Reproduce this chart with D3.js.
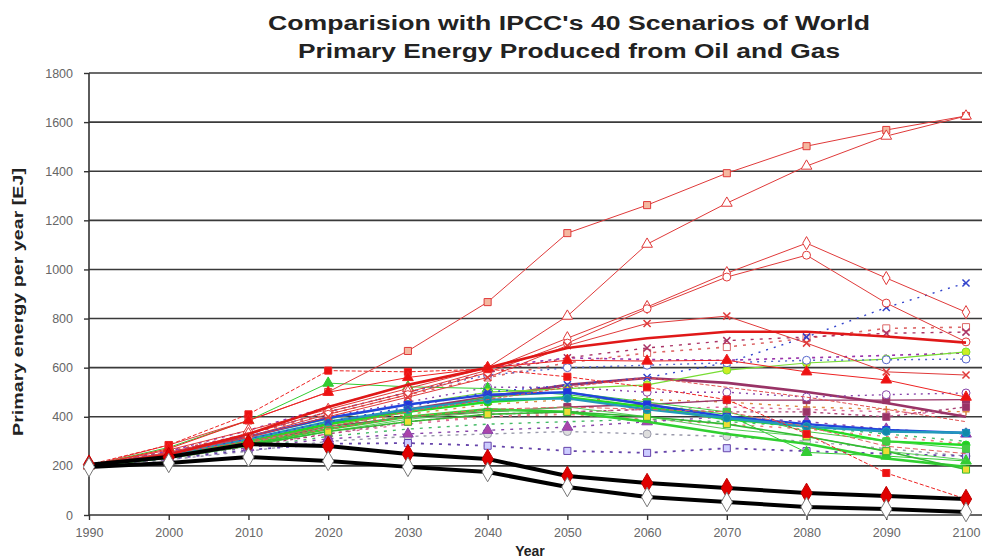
<!DOCTYPE html>
<html><head><meta charset="utf-8">
<script src="https://cdn.jsdelivr.net/npm/d3@7/dist/d3.min.js"></script>
<style>body{margin:0;background:#fff}svg{display:block;font-family:"Liberation Sans",Arial,sans-serif}</style>
</head><body><svg id="c" width="985" height="560"></svg>
<script>
// ---------- data ----------
const years = [1990,2000,2010,2020,2030,2040,2050,2060,2070,2080,2090,2100];
const yTicks = [0,200,400,600,800,1000,1200,1400,1600,1800];
const titleLines = ["Comparision with IPCC's 40 Scenarios of World","Primary Energy Produced from Oil and Gas"];
const yLabel = "Primary energy per year [EJ]";
const xLabel = "Year";

const redSeries = [
  [200,285,385,501,668,867,1148,1262,1392,1502,1568,1625],
  [200,265,345,430,515,600,810,1103,1270,1421,1543,1625],
  [200,255,330,420,500,590,720,847,985,1107,965,826],
  [200,250,320,410,490,580,700,840,969,1058,863,705],
  [200,250,315,400,480,560,690,780,810,700,583,570],
  [205,285,410,588,583,594,563,520,470,330,171,65],
  [200,270,385,500,560,600,630,627,630,583,550,480],
  [200,250,300,360,420,470,520,560,520,480,430,380],
  [200,240,295,350,400,430,440,430,420,360,280,250],
  [200,245,330,440,530,600,680,720,746,746,727,702]
];
const greenSeries = [
  [200,275,385,537,522,515,490,450,410,255,240,220],
  [200,240,300,370,420,460,480,440,390,360,300,285],
  [200,235,290,350,400,430,420,380,330,290,230,196],
  [200,230,280,340,390,420,440,400,350,320,260,224],
  [200,250,320,390,450,500,515,530,590,619,635,664],
  [200,240,300,360,420,480,500,460,420,340,300,270],
  [200,235,285,340,380,410,420,400,370,320,260,185]
];
const blueSeries = [
  [200,250,320,395,450,490,500,450,400,370,346,334],
  [200,245,310,380,430,470,475,430,395,360,340,335],
  [200,250,310,380,440,500,530,560,620,725,845,945],
  [200,255,330,420,500,570,600,610,620,630,632,635]
];
const purpleSeries = [
  [200,240,300,370,430,480,530,558,538,501,456,400],
  [200,235,290,360,400,420,440,450,468,468,468,470],
  [200,230,280,330,380,410,420,430,420,420,400,440],
  [200,250,320,400,460,520,520,500,500,480,490,497],
  [200,228,265,290,293,282,261,253,272,260,250,240],
  [200,232,275,310,330,345,358,380,400,380,350,330],
  [200,260,345,440,530,600,640,633,630,640,650,660],
  [200,255,330,420,500,580,640,680,710,725,740,745]
];
const dottedSeries = [
  [200,260,330,410,490,560,620,660,684,720,760,765],
  [200,235,285,330,370,400,420,430,440,430,420,410],
  [200,225,260,300,320,330,340,330,320,300,270,240],
  [200,240,290,340,380,400,410,390,370,350,320,290],
  [200,240,300,360,410,450,470,470,460,440,430,420],
  [200,230,275,320,350,370,380,390,380,360,330,300]
];
const blackSeries = [
  [205,236,289,281,248,228,159,130,110,90,77,65],
  [195,212,236,220,196,175,114,73,53,33,24,12]
];

// ---------- styles (kept apart from data) ----------
const redStyles = [
  {c:"#e03a3a",w:1,m:"square",f:"#f4b8a0"},
  {c:"#e03a3a",w:1,m:"triangle",f:"#fff"},
  {c:"#e03a3a",w:1,m:"diamond",f:"#fff"},
  {c:"#e03a3a",w:1,m:"circle",f:"#fff"},
  {c:"#e03a3a",w:1,m:"x",f:"none"},
  {c:"#ee2222",w:1,m:"square",f:"#ee1111",d:"4,2"},
  {c:"#ee2222",w:1,m:"triangle",f:"#ee1111"},
  {c:"#e05050",w:1,m:null,d:"4,2"},
  {c:"#e06060",w:1,m:null,d:"5,3"},
  {c:"#e01818",w:2.6,m:null}
];
const greenStyles = [
  {c:"#33cc33",w:1,m:"triangle",f:"#33cc33"},
  {c:"#22dd22",w:2.4,m:"circle",f:"#22cc22"},
  {c:"#30d030",w:2.6,m:null},
  {c:"#55cc55",w:1,m:null},
  {c:"#77dd33",w:1.2,m:"circle",f:"#ccee22"},
  {c:"#44cc44",w:1,m:"square",f:"#44cc44"},
  {c:"#33bb33",w:1.6,m:"square",f:"#eedd33"}
];
const blueStyles = [
  {c:"#2244dd",w:2.4,m:"square",f:"#2233dd"},
  {c:"#2299bb",w:2.4,m:"circle",f:"#1188aa"},
  {c:"#3344cc",w:1.4,m:"x",f:"none",d:"2,6"},
  {c:"#5566cc",w:1.4,m:"circle",f:"#fff",d:"2,5"}
];
const purpleStyles = [
  {c:"#993366",w:2.6,m:null},
  {c:"#993366",w:1.4,m:"square",f:"#993366"},
  {c:"#aa4477",w:1.4,m:"square",f:"#993366",d:"3,4"},
  {c:"#8844aa",w:1.4,m:"circle",f:"#fff",d:"2,5"},
  {c:"#6644aa",w:1.8,m:"square",f:"#ccccff",d:"3,6"},
  {c:"#8844aa",w:1.4,m:"triangle",f:"#aa44aa",d:"3,6"},
  {c:"#9933aa",w:1.6,m:null,d:"3,5"},
  {c:"#aa3366",w:1.4,m:"x",f:"none",d:"3,6"}
];
const dottedStyles = [
  {c:"#dd6666",w:1.6,m:"square",f:"#fff",d:"3,6"},
  {c:"#dd6699",w:1.4,m:null,d:"3,6"},
  {c:"#9999aa",w:1.4,m:"circle",f:"#ddd",d:"3,5"},
  {c:"#ee7777",w:1.4,m:null,d:"3,6"},
  {c:"#dd8844",w:1.4,m:"plus",f:"none",d:"3,6"},
  {c:"#44bb66",w:1.4,m:null,d:"3,6"}
];
const blackStyles = [
  {c:"#000",w:4,m:"diamond",f:"#e00000",s:"#c00000",size:110},
  {c:"#000",w:4,m:"diamond",f:"#fff",s:"#777",size:110}
];

// ---------- chart ----------
const svg = d3.select("#c");
const x = d3.scaleLinear().domain([1990,2100]).range([89,966]);
const y = d3.scaleLinear().domain([0,1800]).range([515,73]);
const plotRight = 982;

// title
svg.selectAll("text.title").data(titleLines).join("text")
  .attr("class","title")
  .attr("x",569).attr("y",(d,i)=>30+i*28)
  .attr("text-anchor","middle")
  .attr("font-size",20).attr("font-weight","bold").attr("fill","#222")
  .attr("textLength",(d,i)=>i===0?602:542)
  .attr("lengthAdjust","spacingAndGlyphs")
  .text(d=>d);

// gridlines
svg.append("g").selectAll("line").data(yTicks.filter(v=>v>0)).join("line")
  .attr("x1",x(1990)).attr("x2",plotRight)
  .attr("y1",d=>y(d)).attr("y2",d=>y(d))
  .attr("stroke","#3a3a3a").attr("stroke-width",1.6);

// axes
const yAxis = d3.axisLeft(y).tickValues(yTicks).tickSize(5).tickPadding(11).tickFormat(d3.format("d"));
const gy = svg.append("g").attr("transform",`translate(${x(1990)},0)`).call(yAxis);
const xAxis = d3.axisBottom(x).tickValues(years).tickSize(5).tickPadding(8).tickFormat(d3.format("d"));
const gx = svg.append("g").attr("transform",`translate(0,${y(0)})`).call(xAxis);
[gx,gy].forEach(g=>{
  g.select(".domain").attr("stroke","#333").attr("stroke-width",1.6);
  g.selectAll(".tick line").attr("stroke","#333").attr("stroke-width",1.4);
  g.selectAll(".tick text").attr("font-size",12.5).attr("fill","#666")
   .attr("font-family","'Liberation Sans',Arial,sans-serif");
});
gx.select(".domain").attr("d",`M${x(1990)},0H${plotRight}`);
gy.select(".domain").attr("d",`M0,${y(1800)}V${y(0)}`);

// axis labels
svg.append("text").attr("transform",`translate(23,${(y(0)+y(1800))/2+8}) rotate(-90)`)
  .attr("text-anchor","middle").attr("font-size",14).attr("font-weight","bold").attr("fill","#222")
  .attr("textLength",268).attr("lengthAdjust","spacingAndGlyphs").text(yLabel);
svg.append("text").attr("x",530).attr("y",556).attr("text-anchor","middle")
  .attr("font-size",14).attr("font-weight","bold").attr("fill","#222").text(xLabel);

// series
const line = d3.line().x((d,i)=>x(years[i])).y(d=>y(d));
function symPath(m,size){
  const s = size||50;
  if(m==="x"){const r=Math.sqrt(s)/2;return `M${-r},${-r}L${r},${r}M${-r},${r}L${r},${-r}`;}
  if(m==="plus"){const r=Math.sqrt(s)/2;return `M${-r},0H${r}M0,${-r}V${r}`;}
  const t = {square:d3.symbolSquare,triangle:d3.symbolTriangle,diamond:d3.symbolDiamond,circle:d3.symbolCircle}[m];
  return d3.symbol().type(t).size(s)();
}
const layers = [
  [dottedSeries,dottedStyles],
  [purpleSeries,purpleStyles],
  [greenSeries,greenStyles],
  [blueSeries,blueStyles],
  [redSeries,redStyles],
  [blackSeries,blackStyles]
];
const gSeries = svg.append("g");
layers.forEach(([data,styles])=>{
  data.forEach((vals,k)=>{
    const st = styles[k];
    const g = gSeries.append("g");
    g.append("path").attr("d",line(vals)).attr("fill","none")
      .attr("stroke",st.c).attr("stroke-width",st.w)
      .attr("stroke-dasharray",st.d||null).attr("stroke-linejoin","round");
    if(st.m){
      g.selectAll("path.m").data(vals).join("path").attr("class","m")
        .attr("transform",(d,i)=>`translate(${x(years[i])},${y(d)})`)
        .attr("d",symPath(st.m,st.size))
        .attr("fill",(st.m==="x"||st.m==="plus")?"none":st.f)
        .attr("stroke",st.s||st.c).attr("stroke-width",(st.m==="x"||st.m==="plus")?1.5:1);
    }
  });
});
</script></body></html>
